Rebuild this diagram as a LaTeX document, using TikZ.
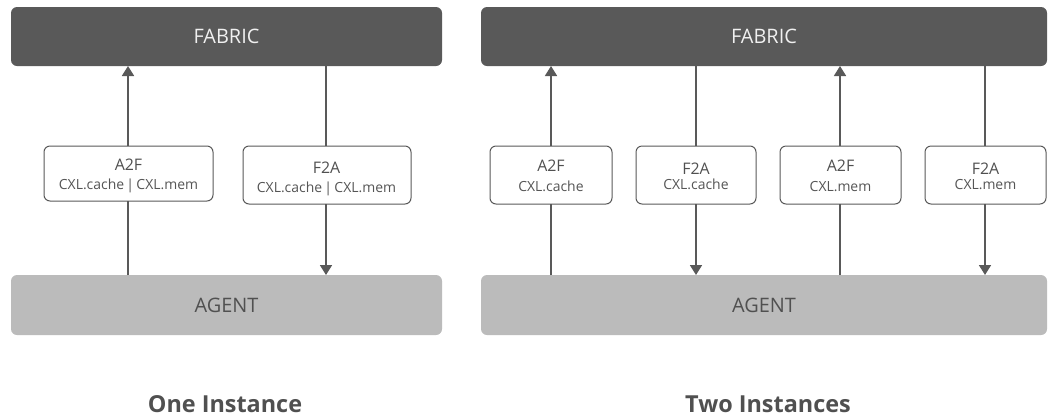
\documentclass[tikz,border=0pt]{standalone}
\usepackage{fontspec}
\setmainfont{Open Sans}
\usetikzlibrary{arrows.meta}
\definecolor{fabricgray}{HTML}{595959}
\definecolor{agentgray}{HTML}{BBBBBB}
\definecolor{inkgray}{HTML}{505050}
\definecolor{subgray}{HTML}{555555}
\begin{document}
\begin{tikzpicture}[x=1bp,y=-1bp,
  barlabel/.style={font=\fontsize{20}{24}\selectfont},
  chanbox/.style={draw=fabricgray, line width=1bp, fill=white, rounded corners=6bp},
  chantitle/.style={text=inkgray, font=\fontsize{16}{19}\selectfont, anchor=base},
  chansub/.style={text=subgray, font=\fontsize{14}{17}\selectfont, anchor=base},
  caption/.style={text=inkgray, font=\fontsize{23.5}{27}\bfseries\selectfont, anchor=base},
  link/.style={draw=fabricgray, line width=1.7bp},
  tip/.style={-{Triangle[width=12bp,length=10bp]}},
]
\useasboundingbox (0,0) rectangle (1048,418);

% ---------- One instance ----------
\fill[fabricgray, rounded corners=6bp] (11,7) rectangle (442,66);
\node[barlabel, text=white!94!black] (fab1) at (226.5,36.5) {FABRIC};
\coordinate (fab1s) at (226.5,66);
\fill[agentgray, rounded corners=6bp] (11,275) rectangle (442,335);
\node[barlabel, text=inkgray] (ag1) at (226.5,305) {AGENT};
\coordinate (ag1n) at (226.5,275);

\draw[chanbox] (44,146) rectangle (213,201);
\coordinate (b1n) at (128,146); \coordinate (b1s) at (128,201);
\node[chantitle] (b1t) at (128.5,170) {A2F};
\node[chansub] (b1c) at (128.5,189) {CXL.cache\,|\,CXL.mem};

\draw[chanbox] (243,146) rectangle (411,204);
\coordinate (b2n) at (326,146); \coordinate (b2s) at (326,204);
\node[chantitle] (b2t) at (326.5,173) {F2A};
\node[chansub] (b2c) at (326.5,192) {CXL.cache\,|\,CXL.mem};

\draw[link] (ag1n -| b1s) -- (b1s);
\draw[link, tip] (b1n) -- (fab1s -| b1n);
\draw[link] (fab1s -| b2n) -- (b2n);
\draw[link, tip] (b2s) -- (ag1n -| b2s);

\node[caption] (cap1) at (225,412) {One Instance};

% ---------- Two instances ----------
\fill[fabricgray, rounded corners=6bp] (481,7) rectangle (1047,66);
\node[barlabel, text=white!94!black] (fab2) at (764,36.5) {FABRIC};
\coordinate (fab2s) at (764,66);
\fill[agentgray, rounded corners=6bp] (481,275) rectangle (1047,335);
\node[barlabel, text=inkgray] (ag2) at (764,305) {AGENT};
\coordinate (ag2n) at (764,275);

\draw[chanbox] (490,146) rectangle (612,204);
\coordinate (c1n) at (551,146); \coordinate (c1s) at (551,204);
\node[chantitle] (c1t) at (551,171) {A2F};
\node[chansub] (c1c) at (551,191) {CXL.cache};

\draw[chanbox] (636,146) rectangle (756,204);
\coordinate (c2n) at (696,146); \coordinate (c2s) at (696,204);
\node[chantitle] (c2t) at (696,174) {F2A};
\node[chansub] (c2c) at (696,189) {CXL.cache};

\draw[chanbox] (780,146) rectangle (901,204);
\coordinate (c3n) at (840,146); \coordinate (c3s) at (840,204);
\node[chantitle] (c3t) at (840.5,171) {A2F};
\node[chansub] (c3c) at (840.5,191) {CXL.mem};

\draw[chanbox] (925,146) rectangle (1046,204);
\coordinate (c4n) at (985,146); \coordinate (c4s) at (985,204);
\node[chantitle] (c4t) at (985.5,174) {F2A};
\node[chansub] (c4c) at (985.5,189) {CXL.mem};

\draw[link] (ag2n -| c1s) -- (c1s);
\draw[link, tip] (c1n) -- (fab2s -| c1n);
\draw[link] (fab2s -| c2n) -- (c2n);
\draw[link, tip] (c2s) -- (ag2n -| c2s);
\draw[link] (ag2n -| c3s) -- (c3s);
\draw[link, tip] (c3n) -- (fab2s -| c3n);
\draw[link] (fab2s -| c4n) -- (c4n);
\draw[link, tip] (c4s) -- (ag2n -| c4s);

\node[caption] (cap2) at (768,412) {Two Instances};
\end{tikzpicture}
\end{document}
